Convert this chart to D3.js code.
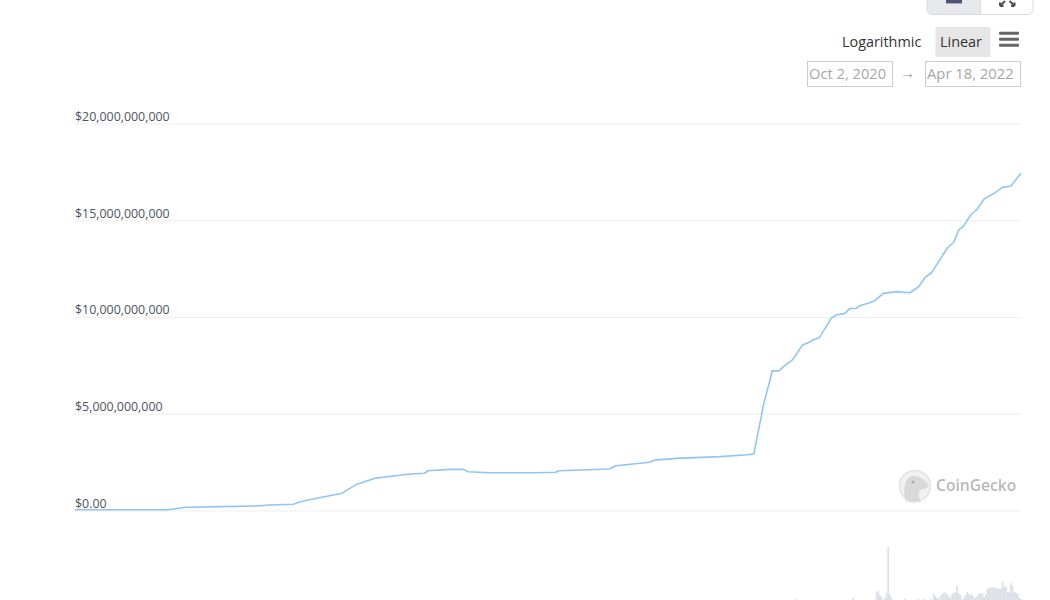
<!DOCTYPE html>
<html><head><meta charset="utf-8">
<script src="https://cdn.jsdelivr.net/npm/d3@7/dist/d3.min.js"></script>
<style>html,body{margin:0;padding:0;background:#fff;overflow:hidden}svg{display:block}text{font-family:"Open Sans",sans-serif}</style>
</head><body><svg id="c" width="1050" height="600"></svg>
<script>
const dates=["2020-10-02","2020-11-26","2020-12-03","2020-12-07","2020-12-27","2021-01-18","2021-01-26","2021-02-09","2021-02-13","2021-02-23","2021-03-10","2021-03-18","2021-03-30","2021-04-18","2021-04-28","2021-04-30","2021-05-13","2021-05-21","2021-05-24","2021-06-06","2021-07-02","2021-07-15","2021-07-17","2021-08-16","2021-08-20","2021-09-09","2021-09-12","2021-09-25","2021-10-21","2021-11-06","2021-11-10","2021-11-16","2021-11-19","2021-11-21","2021-11-25","2021-11-28","2021-12-03","2021-12-09","2021-12-13","2021-12-15","2021-12-19","2021-12-26","2021-12-29","2022-01-03","2022-01-06","2022-01-10","2022-01-12","2022-01-17","2022-01-21","2022-01-26","2022-02-03","2022-02-11","2022-02-16","2022-02-20","2022-02-24","2022-02-28","2022-03-05","2022-03-09","2022-03-12","2022-03-15","2022-03-19","2022-03-23","2022-03-27","2022-04-02","2022-04-07","2022-04-12","2022-04-18"];
const marketCap=[0.03,0.03,0.11,0.165,0.195,0.23,0.28,0.32,0.45,0.63,0.89,1.32,1.67,1.87,1.92,2.05,2.12,2.12,2.0,1.95,1.95,1.97,2.05,2.14,2.31,2.49,2.6,2.69,2.78,2.88,2.92,5.56,6.53,7.22,7.21,7.46,7.78,8.55,8.69,8.81,8.93,9.93,10.1,10.17,10.43,10.45,10.58,10.71,10.84,11.22,11.31,11.25,11.56,12.05,12.31,12.86,13.55,13.86,14.5,14.72,15.27,15.58,16.1,16.39,16.7,16.77,17.43];
const volumeDates=["2021-12-05","2022-01-08","2022-01-22","2022-01-23","2022-01-24","2022-01-25","2022-01-27","2022-01-28","2022-01-29","2022-01-30","2022-01-31","2022-02-08","2022-02-16","2022-02-19","2022-02-23","2022-02-25","2022-02-26","2022-02-27","2022-02-28","2022-03-01","2022-03-02","2022-03-03","2022-03-04","2022-03-05","2022-03-06","2022-03-07","2022-03-08","2022-03-09","2022-03-10","2022-03-11","2022-03-12","2022-03-13","2022-03-14","2022-03-15","2022-03-16","2022-03-17","2022-03-18","2022-03-19","2022-03-20","2022-03-21","2022-03-22","2022-03-23","2022-03-24","2022-03-25","2022-03-26","2022-03-27","2022-03-28","2022-03-29","2022-03-30","2022-03-31","2022-04-01","2022-04-02","2022-04-03","2022-04-04","2022-04-05","2022-04-06","2022-04-07","2022-04-08","2022-04-09","2022-04-10","2022-04-11","2022-04-12","2022-04-13","2022-04-14","2022-04-15","2022-04-16","2022-04-17","2022-04-18"];
const volume=[0.1,0.2,0.77,0.93,0.5,0.3,0.2,0.7,5.27,0.5,0.2,0.1,0.1,0.1,0.1,0.65,0.4,0.25,0.15,0.45,0.6,0.7,0.75,0.6,0.4,0.25,0.6,0.7,0.8,1.4,0.7,0.5,0.05,0.2,0.5,0.8,0.6,0.5,0.5,0.2,0.25,0.4,0.6,0.65,0.7,0.3,0.6,1.1,1.2,1.25,1.25,1.25,1.2,1.2,1.1,1.1,1.8,1.3,1.35,0.8,0.8,1.67,1.4,0.8,0.7,0.6,0.2,0.1];
const yTicks=[0,5,10,15,20];
const yTickLabels=["$0.00","$5,000,000,000","$10,000,000,000","$15,000,000,000","$20,000,000,000"];
const startLabel="Oct 2, 2020",endLabel="Apr 18, 2022";
const svg=d3.select("#c");
const parse=d3.utcParse("%Y-%m-%d");
const x=d3.scaleUtc().domain([parse(dates[0]),parse(dates[dates.length-1])]).range([75,1021]);
const y=d3.scaleLinear().domain([0,20]).range([510.4,123.5]);
const yVol=d3.scaleLinear().domain([0,5.27]).range([600,547]);

// top button group, cut off by the page edge
const btn=svg.append("g");
btn.append("path").attr("d","M927,-2V9.5a5,5 0 0 0 5,5H980.5V-2Z").attr("fill","#e6e8ec");
btn.append("path").attr("d","M927,-2V9.5a5,5 0 0 0 5,5H1028a5,5 0 0 0 5,-5V-2").attr("fill","none").attr("stroke","#d9dbe0");
btn.append("line").attr("x1",980.5).attr("x2",980.5).attr("y1",0).attr("y2",14.5).attr("stroke","#d9dbe0");
btn.append("rect").attr("x",946).attr("y",0).attr("width",16).attr("height",3.4).attr("fill","#4d5272");
btn.append("path").attr("d","M1000,6V2.5M1000,6H1003.5M1014.5,6V2.5M1014.5,6H1011M1001,5L1005,1M1013.5,5L1009.5,1").attr("stroke","#4a4f60").attr("stroke-width",2).attr("fill","none");

// scale buttons
svg.append("text").attr("x",842).attr("y",46.5).attr("font-size",14.4).attr("fill","#333").text("Logarithmic");
svg.append("rect").attr("x",935.5).attr("y",27).attr("width",55).attr("height",30).attr("fill","#e6e6e6");
svg.append("text").attr("x",940).attr("y",46.5).attr("font-size",14.4).attr("fill","#333").text("Linear");
svg.append("g").selectAll("rect").data([31.8,37.8,43.8]).join("rect").attr("x",999).attr("y",d=>d).attr("width",20).attr("height",3).attr("rx",1).attr("fill","#666");

// date range boxes
svg.append("rect").attr("x",807.5).attr("y",61.5).attr("width",85).attr("height",25).attr("fill","#fff").attr("stroke","#ccc");
svg.append("text").attr("x",809).attr("y",79).attr("font-size",14.7).attr("fill","#a6a6a6").text(startLabel);
svg.append("text").attr("x",900).attr("y",78).attr("font-size",15).attr("fill","#999").text("→");
svg.append("rect").attr("x",925.5).attr("y",61.5).attr("width",95).attr("height",25).attr("fill","#fff").attr("stroke","#ccc");
svg.append("text").attr("x",927).attr("y",79).attr("font-size",14.8).attr("fill","#a6a6a6").text(endLabel);

// y axis with grid
const axis=d3.axisLeft(y).tickValues(yTicks).tickFormat((d,i)=>yTickLabels[i]).tickSize(-946);
const ga=svg.append("g").attr("transform","translate(75,0)").call(axis);
ga.select(".domain").remove();
ga.selectAll("line").attr("stroke","#eeeeee");
ga.selectAll("text").attr("x",0).attr("dy",-3.2).attr("text-anchor","start").attr("font-size",12.4).attr("font-family",'"Open Sans",sans-serif').attr("fill","#4d5363");

// CoinGecko watermark
const logo=svg.append("g");
logo.append("circle").attr("cx",915).attr("cy",486).attr("r",15.5).attr("fill","#f1f1f1").attr("stroke","#e2e2e2").attr("stroke-width",1.5);
logo.append("path").attr("d","M905,500C903,488 905,477 913,476C920,475 926,481 929,486C926,490 920,489 919,491C918,496 920,499 921,501C915,503 909,503 905,500Z").attr("fill","#d9d9d9");
logo.append("circle").attr("cx",913).attr("cy",482).attr("r",1.5).attr("fill","#aaaaaa");
logo.append("text").attr("x",936).attr("y",491).attr("font-size",15.6).attr("font-weight",600).attr("font-family",'"Open Sans",sans-serif').attr("fill","#b9b9b9").text("CoinGecko");

// market cap line
const line=d3.line().x((d,i)=>x(parse(dates[i]))).y(d=>y(d));
svg.append("path").datum(marketCap).attr("d",line).attr("fill","none").attr("stroke","#90c5f5").attr("stroke-width",1.6).attr("stroke-linejoin","round");

// volume bars
svg.append("g").selectAll("rect").data(volume).join("rect")
 .attr("x",(d,i)=>x(parse(volumeDates[i]))-0.85).attr("width",1.7)
 .attr("y",d=>yVol(d)).attr("height",d=>600-yVol(d)).attr("fill","#dcdfe7");
</script></body></html>
